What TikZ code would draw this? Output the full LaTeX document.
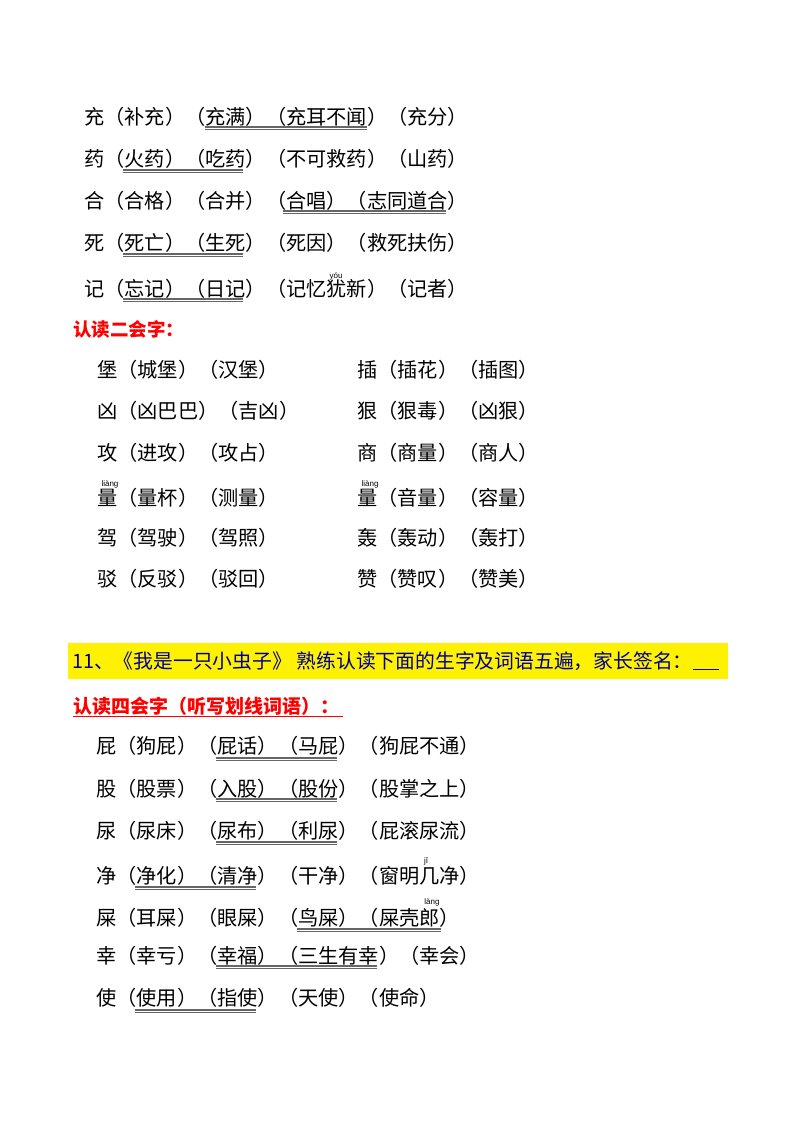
\documentclass[tikz,border=0pt]{standalone}
\usepackage{fontspec}
\setmainfont{Noto Sans CJK SC}
\newfontfamily\pyfont{Liberation Sans}
\begin{document}
\begin{tikzpicture}[x=1pt,y=-1pt,
  row/.style={anchor=west,inner sep=0pt,font=\fontsize{20.2}{21}\selectfont},
  py/.style={inner sep=0pt,font=\pyfont\fontsize{8}{9}\selectfont},
  ul/.style={draw=gray!80!black,line width=1.1pt,double=white,double distance=0.9pt}]
\useasboundingbox[fill=white] (0,0) rectangle (800,1132);
% section 1
\node[row] (a1) at (84,117) {充（补充）（充满）（充耳不闻）（充分）};
\node[row] (a2) at (84,159) {药（火药）（吃药）（不可救药）（山药）};
\node[row] (a3) at (84,201) {合（合格）（合并）（合唱）（志同道合）};
\node[row] (a4) at (84,243) {死（死亡）（生死）（死因）（救死扶伤）};
\node[row] (a5) at (84,289) {记（忘记）（日记）（记忆犹新）（记者）};
\node[py] (p1) at (336,276) {yóu};
\draw[ul] (205,128)--(367,128);
\draw[ul] (123,171)--(243,171);
\draw[ul] (283,212)--(446,212);
\draw[ul] (123,255)--(243,255);
\draw[ul] (123,300)--(243,300);
% heading
\node[row,text=red,font=\bfseries\fontsize{18.5}{20}\selectfont] (h1) at (73,329) {认读二会字：};
% section 2
\node[row] (b1) at (97,370) {堡（城堡）（汉堡）};
\node[row] (b2) at (97,411) {凶（凶巴巴）（吉凶）};
\node[row] (b3) at (97,453) {攻（进攻）（攻占）};
\node[row] (b4) at (97,498) {量（量杯）（测量）};
\node[row] (b5) at (97,538) {驾（驾驶）（驾照）};
\node[row] (b6) at (97,579) {驳（反驳）（驳回）};
\node[row] (c1) at (357,370) {插（插花）（插图）};
\node[row] (c2) at (357,411) {狠（狠毒）（凶狠）};
\node[row] (c3) at (357,453) {商（商量）（商人）};
\node[row] (c4) at (357,498) {量（音量）（容量）};
\node[row] (c5) at (357,538) {轰（轰动）（轰打）};
\node[row] (c6) at (357,579) {赞（赞叹）（赞美）};
\node[py] (p2) at (110,484) {liàng};
\node[py] (p3) at (370,484) {liàng};
% yellow band
\fill[yellow] (68,643) rectangle (728,679);
\node[row,text=blue!60!black,font=\fontsize{19.8}{21}\selectfont] (t1) at (72,661) {11、《我是一只小虫子》 熟练认读下面的生字及词语五遍，家长签名：\rule[-2pt]{26pt}{1pt}};
\node[row,text=red,font=\bfseries\fontsize{19}{20}\selectfont] (h2) at (73,706) {认读四会字（听写划线词语）：};
\draw[draw=red,line width=0.9pt,double=white,double distance=0.8pt] (73,717)--(343,717);
% section 3
\node[row] (d1) at (96,746) {屁（狗屁）（屁话）（马屁）（狗屁不通）};
\node[row] (d2) at (96,789) {股（股票）（入股）（股份）（股掌之上）};
\node[row] (d3) at (96,831) {尿（尿床）（尿布）（利尿）（屁滚尿流）};
\node[row] (d4) at (96,876) {净（净化）（清净）（干净）（窗明几净）};
\node[row] (d5) at (96,918) {屎（耳屎）（眼屎）（鸟屎）（屎壳郎）};
\node[row] (d6) at (96,956) {幸（幸亏）（幸福）（三生有幸）（幸会）};
\node[row] (d7) at (96,998) {使（使用）（指使）（天使）（使命）};
\node[py] (p4) at (426,861) {jǐ};
\node[py] (p5) at (432,902) {làng};
\draw[ul] (216,759)--(337,759);
\draw[ul] (216,800)--(337,800);
\draw[ul] (216,843)--(337,843);
\draw[ul] (135,888)--(256,888);
\draw[ul] (297,930)--(441,930);
\draw[ul] (216,967)--(377,967);
\draw[ul] (135,1011)--(256,1011);
\end{tikzpicture}
\end{document}
